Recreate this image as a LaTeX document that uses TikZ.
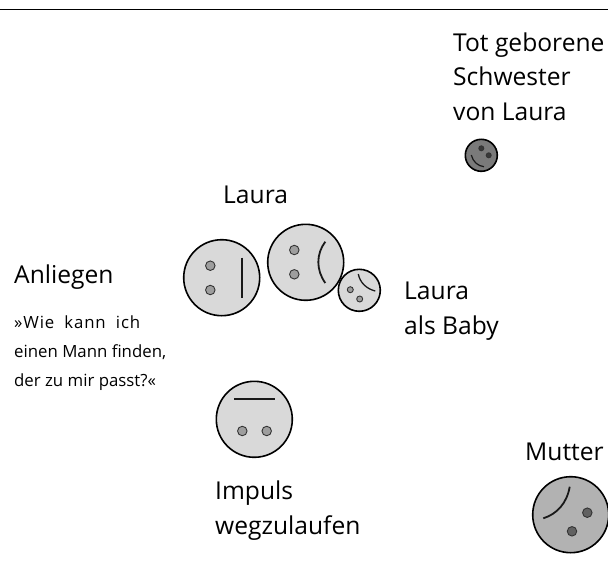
\documentclass[tikz,border=0pt]{standalone}
\usepackage{fontspec}
\setmainfont{Open Sans}
\definecolor{lightface}{gray}{0.85}
\definecolor{lighteye}{gray}{0.62}
\definecolor{midface}{gray}{0.70}
\definecolor{mideye}{gray}{0.38}
\definecolor{darkface}{gray}{0.48}
\definecolor{darkeye}{gray}{0.22}
\tikzset{
  face/.style={circle,draw=black,line width=1.6pt,minimum size=#1,inner sep=0pt},
  eye/.style={circle,draw=black!80,line width=0.9pt,minimum size=#1,inner sep=0pt},
  feature/.style={line width=1.8pt,draw=black!90},
  big/.style={font=\fontsize{24.6}{34.5}\selectfont,anchor=base west,align=left,inner sep=0pt},
  small/.style={font=\fontsize{16.8}{29}\selectfont,anchor=base west,align=left,inner sep=0pt}
}
\begin{document}
\begin{tikzpicture}[x=1pt,y=-1pt]
\useasboundingbox (0,0) rectangle (608,573);
\coordinate (ruleL) at (0,9); \coordinate (ruleR) at (608,9);
\draw[line width=0.9pt] (ruleL) -- (ruleR);
% faces
\node[face=76pt,fill=lightface] (fa) at (221.7,277.7) {};
\node[eye=9.5pt,fill=lighteye] (fa1) at (210.3,265.7) {};
\node[eye=9.5pt,fill=lighteye] (fa2) at (210.3,290) {};
\draw[feature] (241.7,257.7) -- (241.7,298.3);
\node[face=76pt,fill=lightface] (fb) at (305.7,262.3) {};
\node[eye=9.5pt,fill=lighteye] (fb1) at (294.3,250) {};
\node[eye=9.5pt,fill=lighteye] (fb2) at (294.3,274.3) {};
\draw[feature] (325.3,241.7) .. controls (316,254) and (316,270) .. (325.3,283);
\node[face=42pt,fill=lightface] (fc) at (359.3,290.3) {};
\node[eye=6pt,fill=lighteye] (fc1) at (350.3,289.7) {};
\node[eye=6pt,fill=lighteye] (fc2) at (359.7,299) {};
\draw[feature,line width=1.3pt] (358.3,274) .. controls (360,283) and (367,289) .. (375.3,291);
\node[face=32pt,fill=darkface] (fd) at (481.3,155.3) {};
\node[eye=5pt,fill=darkeye] (fd1) at (481.3,148.3) {};
\node[eye=5pt,fill=darkeye] (fd2) at (488.7,155.3) {};
\draw[feature,line width=1.2pt] (471.3,155) .. controls (473,162) and (478,166) .. (484,166.7);
\node[face=76pt,fill=midface] (fe) at (570.7,514.7) {};
\node[eye=9.5pt,fill=mideye] (fe1) at (587.3,512.7) {};
\node[eye=9.5pt,fill=mideye] (fe2) at (572,531.3) {};
\draw[feature] (569.7,486.7) .. controls (567,503) and (557,514) .. (543.3,518.3);
\node[face=76pt,fill=lightface] (ff) at (254.3,419.3) {};
\node[eye=9.5pt,fill=lighteye] (ff1) at (242.3,431) {};
\node[eye=9.5pt,fill=lighteye] (ff2) at (266.7,431) {};
\draw[feature] (234,399.3) -- (275,399.3);
% text
\node[big] (t1) at (453,120) {Tot geborene\\Schwester\\von Laura};
\node[big] (t2) at (223,203) {Laura};
\node[big] (t3) at (14,283) {Anliegen};
\node[small] (t4) at (14,386) {\makebox[126pt][s]{\addfontfeature{LetterSpace=5}»Wie kann ich}\\einen Mann finden,\\der zu mir passt?«};
\node[big] (t5) at (404,334) {Laura\\als Baby};
\node[big] (t6) at (215,534) {Impuls\\wegzulaufen};
\node[big] (t7) at (525,460) {Mutter};
\end{tikzpicture}
\end{document}
